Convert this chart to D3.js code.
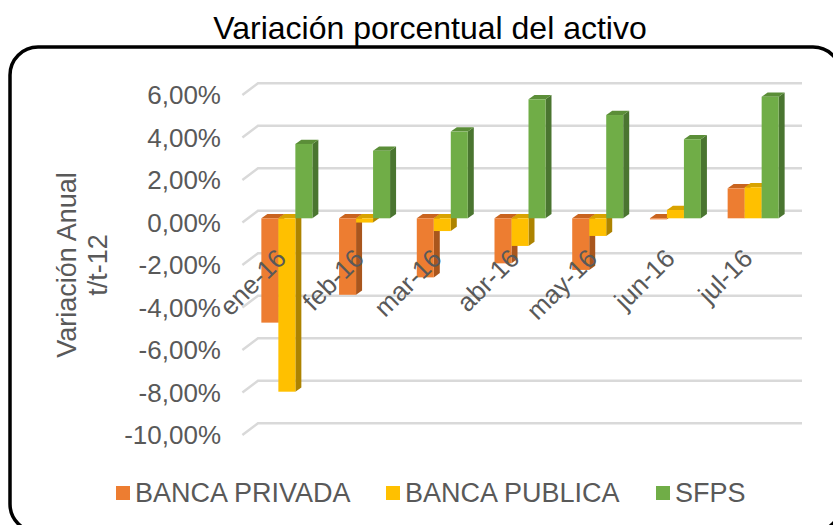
<!DOCTYPE html>
<html>
<head>
<meta charset="utf-8">
<script src="https://cdn.jsdelivr.net/npm/d3@7"></script>
<style>
  html, body { margin: 0; padding: 0; background: #fff; }
  svg text { font-family: "Liberation Sans", Arial, sans-serif; }
</style>
</head>
<body>
<svg id="chart" width="833" height="525"></svg>
<script>
const categories = ["ene-16", "feb-16", "mar-16", "abr-16", "may-16", "jun-16", "jul-16"];
const seriesNames = ["BANCA PRIVADA", "BANCA PUBLICA", "SFPS"];
const bancaPrivada = [-4.91, -3.60, -2.78, -2.12, -2.43, -0.05, 1.41];
const bancaPublica = [-8.16, -0.20, -0.60, -1.30, -0.83, 0.39, 1.46];
const sfps = [3.50, 3.18, 4.08, 5.60, 4.86, 3.72, 5.72];
const yTicks = [6, 4, 2, 0, -2, -4, -6, -8, -10];
const yTickLabels = ["6,00%", "4,00%", "2,00%", "0,00%", "-2,00%", "-4,00%", "-6,00%", "-8,00%", "-10,00%"];

const seriesValues = [bancaPrivada, bancaPublica, sfps];
const colors = {
  "BANCA PRIVADA": { front: "#ED7D31", side: "#A9561D", top: "#C9641F" },
  "BANCA PUBLICA": { front: "#FFC000", side: "#AD8300", top: "#D9A300" },
  "SFPS":          { front: "#70AD47", side: "#4A7530", top: "#5B8E38" }
};

const svg = d3.select("#chart");

// Title
svg.append("text")
  .attr("x", 430).attr("y", 39)
  .attr("text-anchor", "middle")
  .attr("font-size", 32)
  .attr("fill", "#000")
  .text("Variación porcentual del activo");

// Rounded border
svg.append("rect")
  .attr("x", 10).attr("y", 47)
  .attr("width", 831).attr("height", 485)
  .attr("rx", 28).attr("ry", 28)
  .attr("fill", "none").attr("stroke", "#000").attr("stroke-width", 3.5);

// Scales (front plane of the bars)
const x = d3.scaleBand().domain(categories).range([248, 792]).padding(0);
const inner = d3.scaleBand().domain(seriesNames).range([0, 51]).padding(0);
const y = d3.scaleLinear().domain([-10, 6]).range([430.8, 90.8]);

// Back wall offset and side wall depth
const backDx = 10, backDy = -7.5;
const sideDx = -15.6, sideDy = 11.6;
const barDx = 6, barDy = -4.3;

// Gridlines
const grid = svg.append("g");
yTicks.forEach(t => {
  const yb = y(t) + backDy;
  const xb0 = x.range()[0] + backDx;
  const xb1 = x.range()[1] + backDx;
  grid.append("path")
    .attr("d", `M${xb0 + sideDx},${yb + sideDy}L${xb0},${yb}L${xb1},${yb}`)
    .attr("fill", "none").attr("stroke", "#D9D9D9").attr("stroke-width", 2.5);
});

// Y tick labels
const yAxisG = svg.append("g");
yTicks.forEach((t, i) => {
  const yb = y(t) + backDy + sideDy;
  yAxisG.append("text")
    .attr("x", 221).attr("y", yb)
    .attr("dy", "0.36em")
    .attr("text-anchor", "end")
    .attr("font-size", 26)
    .attr("fill", "#595959")
    .text(yTickLabels[i]);
});

// Y axis title
const yTitle = svg.append("text")
  .attr("transform", "translate(0,265) rotate(-90)")
  .attr("text-anchor", "middle")
  .attr("font-size", 27)
  .attr("fill", "#595959");
yTitle.append("tspan").attr("x", 0).attr("y", 76).text("Variación Anual");
yTitle.append("tspan").attr("x", 0).attr("y", 107).text("t/t-12");

// Bars (3D)
const bars = svg.append("g");
categories.forEach((c, ci) => {
  seriesNames.forEach((s, si) => {
    const v = seriesValues[si][ci];
    const x0 = x(c) + (x.bandwidth() - 51) / 2 + inner(s);
    const w = inner.bandwidth();
    const yTop = y(Math.max(v, 0));
    const yBot = y(Math.min(v, 0));
    const col = colors[s];
    bars.append("path")
      .attr("d", `M${x0 + w},${yTop}L${x0 + w + barDx},${yTop + barDy}L${x0 + w + barDx},${yBot + barDy}L${x0 + w},${yBot}Z`)
      .attr("fill", col.side);
    bars.append("path")
      .attr("d", `M${x0},${yTop}L${x0 + barDx},${yTop + barDy}L${x0 + w + barDx},${yTop + barDy}L${x0 + w},${yTop}Z`)
      .attr("fill", col.top);
    bars.append("rect")
      .attr("x", x0).attr("y", yTop)
      .attr("width", w).attr("height", Math.max(yBot - yTop, 0.5))
      .attr("fill", col.front);
  });
});

// Category labels (drawn over the bars)
const xLab = svg.append("g");
categories.forEach(c => {
  const cx = x(c) + x.bandwidth() / 2;
  xLab.append("text")
    .attr("transform", `translate(${cx + 1},260) rotate(-45)`)
    .attr("text-anchor", "end")
    .attr("font-size", 26)
    .attr("fill", "#595959")
    .text(c);
});

// Legend
const legendX = [116, 386, 656];
const legend = svg.append("g");
seriesNames.forEach((s, i) => {
  legend.append("rect")
    .attr("x", legendX[i]).attr("y", 486)
    .attr("width", 14).attr("height", 14)
    .attr("fill", colors[s].front);
  legend.append("text")
    .attr("x", legendX[i] + 19).attr("y", 502)
    .attr("font-size", 27)
    .attr("fill", "#595959")
    .text(s);
});
</script>
</body>
</html>
